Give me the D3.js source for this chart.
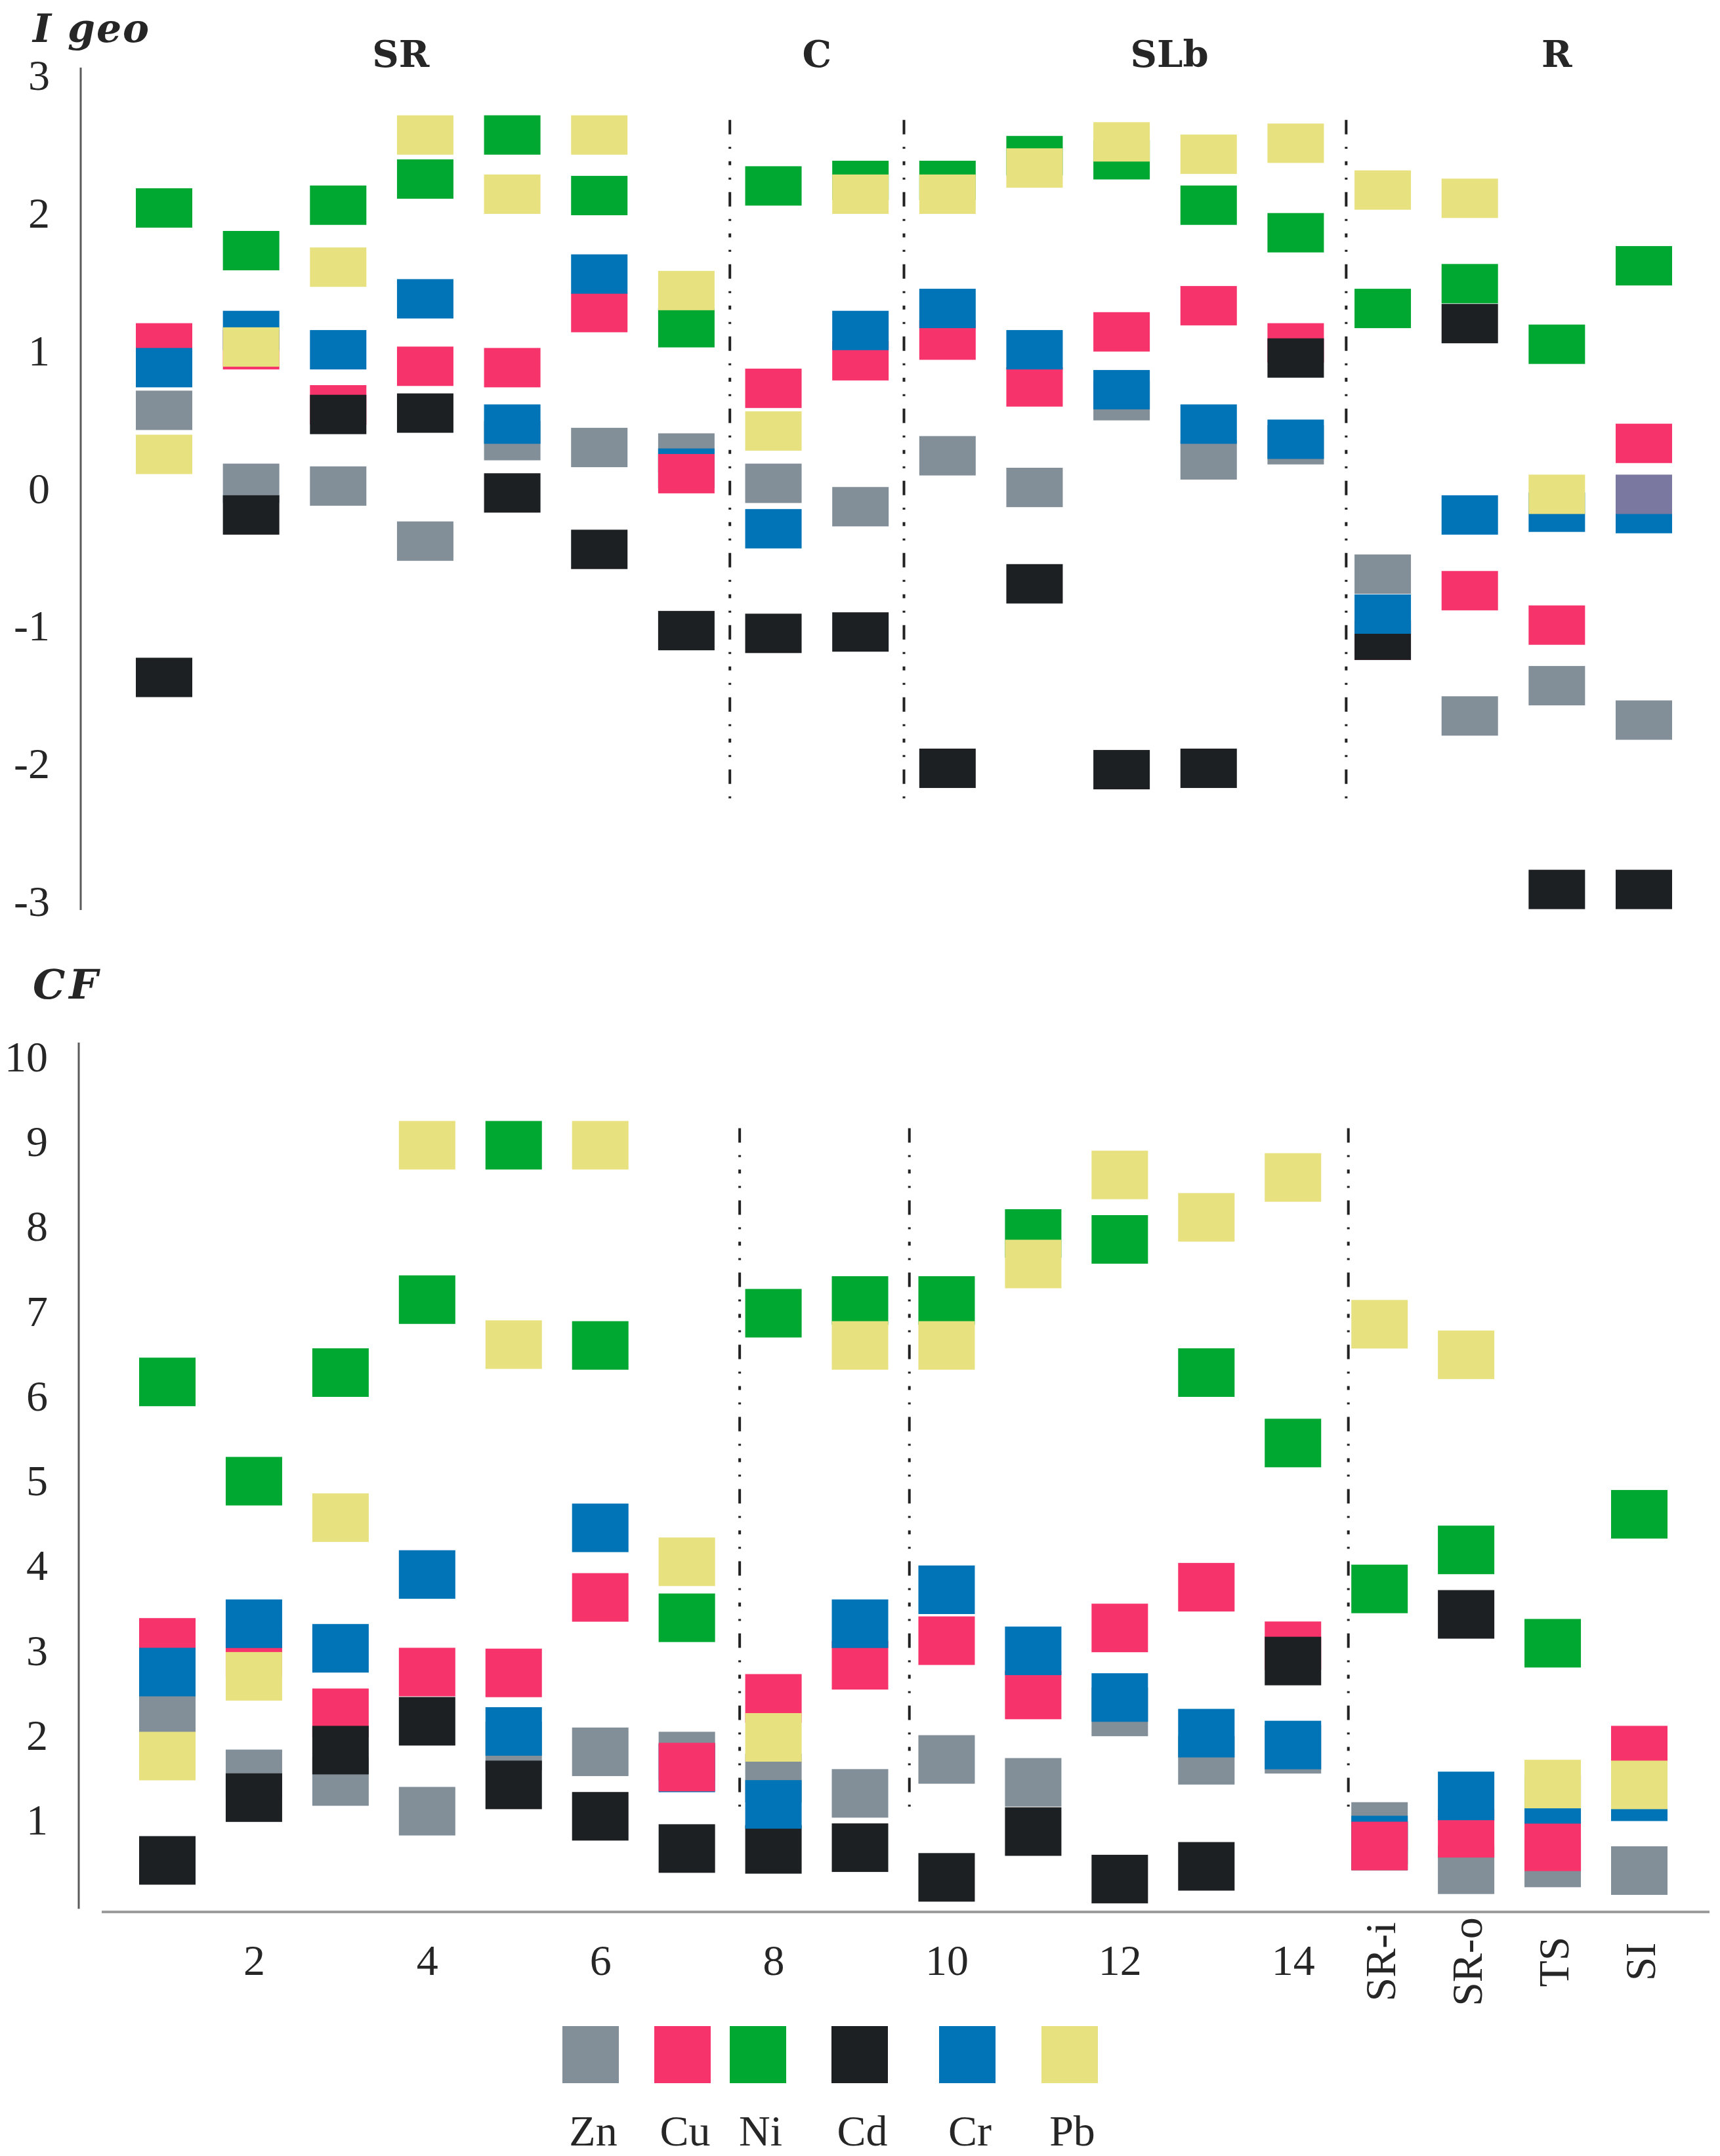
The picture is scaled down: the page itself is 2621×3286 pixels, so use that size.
<!DOCTYPE html>
<html>
<head>
<meta charset="utf-8">
<script src="https://cdn.jsdelivr.net/npm/d3@7"></script>
<style>
  body { margin: 0; background: #fff; }
  text { fill: #262626; }
</style>
</head>
<body>
<svg id="chart" width="2621" height="3286"></svg>
<script>
// sampling sites (x categories)
const sites = ["1", "2", "3", "4", "5", "6", "7", "8", "9", "10", "11", "12", "13", "14", "SR-i", "SR-o", "TS", "SI"];
const xTickLabels = ["2", "4", "6", "8", "10", "12", "14", "SR-i", "SR-o", "TS", "SI"];
const elements = ["Zn", "Cu", "Ni", "Cd", "Cr", "Pb"];
const groups = ["SR", "C", "SLb", "R"];
const igeoTicks = [-3, -2, -1, 0, 1, 2, 3];
const cfTicks = [1, 2, 3, 4, 5, 6, 7, 8, 9, 10];

// geo-accumulation index, one value per site
const igeoZn = [0.57, 0.04, 0.02, -0.38, 0.35, 0.30, 0.26, 0.04, -0.13, 0.24, 0.01, 0.64, 0.21, 0.32, -0.62, -1.65, -1.43, -1.68];
const igeoCu = [1.06, 1.01, 0.61, 0.89, 0.88, 1.28, 0.11, 0.73, 0.93, 1.08, 0.74, 1.14, 1.33, 1.06, -1.10, -0.74, -0.99, 0.33];
const igeoNi = [2.04, 1.73, 2.06, 2.25, 2.57, 2.13, 1.17, 2.20, 2.24, 2.24, 2.42, 2.39, 2.06, 1.86, 1.31, 1.49, 1.05, 1.62];
const igeoCd = [-1.37, -0.19, 0.54, 0.55, -0.03, -0.44, -1.03, -1.05, -1.04, -2.03, -0.69, -2.04, -2.03, 0.95, -1.10, 1.20, -2.91, -2.91];
const igeoCr = [0.88, 1.15, 1.01, 1.38, 0.47, 1.56, 0.15, -0.29, 1.15, 1.31, 1.01, 0.72, 0.47, 0.36, -0.91, -0.19, -0.17, -0.18];
const igeoPb = [0.25, 1.03, 1.61, 2.57, 2.14, 2.57, 1.44, 0.42, 2.14, 2.14, 2.33, 2.52, 2.43, 2.51, 2.17, 2.11, -0.04, -0.04];

// contamination factor
const cfZn = [2.26, 1.55, 1.46, 1.11, 1.88, 1.81, 1.76, 1.50, 1.32, 1.72, 1.45, 2.28, 1.71, 1.84, 0.93, 0.42, 0.50, 0.41];
const cfCu = [3.10, 2.98, 2.27, 2.75, 2.74, 3.63, 1.63, 2.44, 2.83, 3.12, 2.48, 3.27, 3.75, 3.06, 0.70, 0.85, 0.69, 1.83];
const cfNi = [6.17, 5.00, 6.28, 7.14, 8.96, 6.60, 3.39, 6.98, 7.13, 7.13, 7.92, 7.85, 6.28, 5.45, 3.73, 4.19, 3.09, 4.61];
const cfCd = [0.53, 1.27, 1.83, 2.17, 1.42, 1.05, 0.67, 0.66, 0.68, 0.33, 0.87, 0.31, 0.46, 2.88, 0.70, 3.43, null, null];
const cfCr = [2.75, 3.32, 3.03, 3.90, 2.05, 4.45, 1.62, 1.19, 3.32, 3.72, 3.00, 2.45, 2.03, 1.89, 0.77, 1.29, 1.25, 1.28];
const cfPb = [1.76, 2.70, 4.57, 8.96, 6.61, 8.96, 4.05, 1.98, 6.60, 6.60, 7.56, 8.61, 8.11, 8.58, 6.85, 6.49, 1.43, 1.42];

const colors = { Zn: "#838f98", Cu: "#f7336b", Ni: "#00a832", Cd: "#1c2023", Cr: "#0074b7", Pb: "#e8e17f" };

const serif = "'Liberation Serif', serif";
const heavy = "'DejaVu Serif', serif";

const svg = d3.select("#chart");

const panels = [
  {
    name: "igeo",
    series: { Zn: igeoZn, Cu: igeoCu, Ni: igeoNi, Cd: igeoCd, Cr: igeoCr, Pb: igeoPb },
    y: d3.scaleLinear().domain([-3, 3]).range([1374.5, 115.5]),
    x: d3.scalePoint().domain(sites).range([250, 2505]),
    ticks: igeoTicks,
    axisX: 123, axisSpan: [3.06, -3.06],
    markH: 60,
    divSpan: [2.68, -2.26],
    dividers: [["7", 0.5], ["9", 0.5], ["14", 0.58]],
    onTop: { "7": "Cu" },
    tint: { "SI|Pb": "#7a77a0" }
  },
  {
    name: "cf",
    series: { Zn: cfZn, Cu: cfCu, Ni: cfNi, Cd: cfCd, Cr: cfCr, Pb: cfPb },
    y: d3.scaleLinear().domain([0, 10]).range([2904, 1611]),
    x: d3.scalePoint().domain(sites).range([255, 2498]),
    ticks: cfTicks,
    axisX: 120, axisSpan: [10.17, -0.04],
    markH: 74,
    divSpan: [9.16, 1.1],
    dividers: [["7", 0.61], ["9", 0.57], ["14", 0.64]],
    onTop: { "7": "Cu", "SR-i": "Cu" },
    tint: {}
  }
];

const markW = 86;

panels.forEach(p => {
  const g = svg.append("g").attr("class", p.name);

  // y axis: labels from d3.axisLeft, line drawn a bit longer than the range
  const yAxis = d3.axisLeft(p.y)
    .tickValues(p.ticks)
    .tickFormat(d => String(d))
    .tickSize(0)
    .tickPadding(47);
  const ga = g.append("g").attr("transform", `translate(${p.axisX},0)`).call(yAxis);
  ga.select(".domain").remove();
  ga.selectAll("text")
    .style("font-family", serif)
    .style("font-size", "66px")
    .attr("fill", "#262626");

  g.append("line")
    .attr("x1", p.axisX).attr("x2", p.axisX)
    .attr("y1", p.y(p.axisSpan[0])).attr("y2", p.y(p.axisSpan[1]))
    .attr("stroke", "#5a5a5a").attr("stroke-width", 3);

  // dash-dot separators between site groups
  const step = p.x.step();
  g.selectAll(".sep")
    .data(p.dividers)
    .enter()
    .append("line")
    .attr("class", "sep")
    .attr("x1", d => p.x(d[0]) + d[1] * step)
    .attr("x2", d => p.x(d[0]) + d[1] * step)
    .attr("y1", p.y(p.divSpan[0]))
    .attr("y2", p.y(p.divSpan[1]))
    .attr("stroke", "#222")
    .attr("stroke-width", 4)
    .attr("stroke-dasharray", "22,19,3,19,6,19,3,19");

  // marks, drawn element by element; a few sites keep Cu on top
  let marks = [];
  elements.forEach(el => {
    p.series[el].forEach((v, i) => {
      if (v !== null) marks.push({ site: sites[i], el, v });
    });
  });
  const last = marks.filter(m => p.onTop[m.site] === m.el);
  marks = marks.filter(m => p.onTop[m.site] !== m.el).concat(last);

  g.selectAll(".mark")
    .data(marks)
    .enter()
    .append("rect")
    .attr("class", "mark")
    .attr("x", d => p.x(d.site) - markW / 2)
    .attr("y", d => p.y(d.v) - p.markH / 2)
    .attr("width", markW)
    .attr("height", p.markH)
    .attr("fill", d => p.tint[d.site + "|" + d.el] || colors[d.el]);
});

// panel titles
svg.append("text")
  .attr("x", 50).attr("y", 64)
  .style("font-family", heavy).style("font-size", "60px")
  .style("font-weight", "bold").style("font-style", "italic")
  .style("letter-spacing", "2px")
  .text("I geo");
svg.append("text")
  .attr("x", 50).attr("y", 1522)
  .style("font-family", heavy).style("font-size", "62px")
  .style("font-weight", "bold").style("font-style", "italic")
  .style("letter-spacing", "6px")
  .text("CF");

// site group headings over the Igeo panel
const igeoPanel = panels[0];
const groupAt = [3.72, 8.5, 12.55, 17];
svg.selectAll(".group")
  .data(groups)
  .enter()
  .append("text")
  .attr("class", "group")
  .attr("x", (d, i) => igeoPanel.x(sites[0]) + (groupAt[i] - 1) * igeoPanel.x.step())
  .attr("y", 102)
  .attr("text-anchor", "middle")
  .style("font-family", heavy).style("font-size", "56px").style("font-weight", "bold")
  .text(d => d);

// bottom x axis
const cfPanel = panels[1];
const xAxis = d3.axisBottom(cfPanel.x)
  .tickValues(xTickLabels)
  .tickSize(0)
  .tickPadding(49);
const gx = svg.append("g").attr("transform", "translate(0,2914)").call(xAxis);
gx.select(".domain").remove();
gx.selectAll("text")
  .style("font-family", serif)
  .style("font-size", "66px")
  .attr("fill", "#262626");
gx.selectAll("text")
  .filter(d => isNaN(+d))
  .attr("y", 0)
  .attr("dy", "0.35em")
  .attr("transform", "translate(0,76) rotate(-90)")
  .attr("text-anchor", "middle");
svg.append("line")
  .attr("x1", 155).attr("x2", 2605)
  .attr("y1", 2914).attr("y2", 2914)
  .attr("stroke", "#9c9c9c").attr("stroke-width", 4);

// legend (slots follow the uneven spacing of the original)
const legendSlots = [900, 1040, 1155, 1310, 1474, 1630];
const lx = d3.scaleOrdinal().domain(elements).range(legendSlots);
const lg = svg.append("g").attr("class", "legend");
lg.selectAll("rect")
  .data(elements)
  .enter()
  .append("rect")
  .attr("x", d => lx(d) - 43)
  .attr("y", 3088)
  .attr("width", 86)
  .attr("height", 87)
  .attr("fill", d => colors[d]);
lg.selectAll("text")
  .data(elements)
  .enter()
  .append("text")
  .attr("x", d => lx(d) + 4)
  .attr("y", 3270)
  .attr("text-anchor", "middle")
  .style("font-family", serif)
  .style("font-size", "66px")
  .text(d => d);
</script>
</body>
</html>
